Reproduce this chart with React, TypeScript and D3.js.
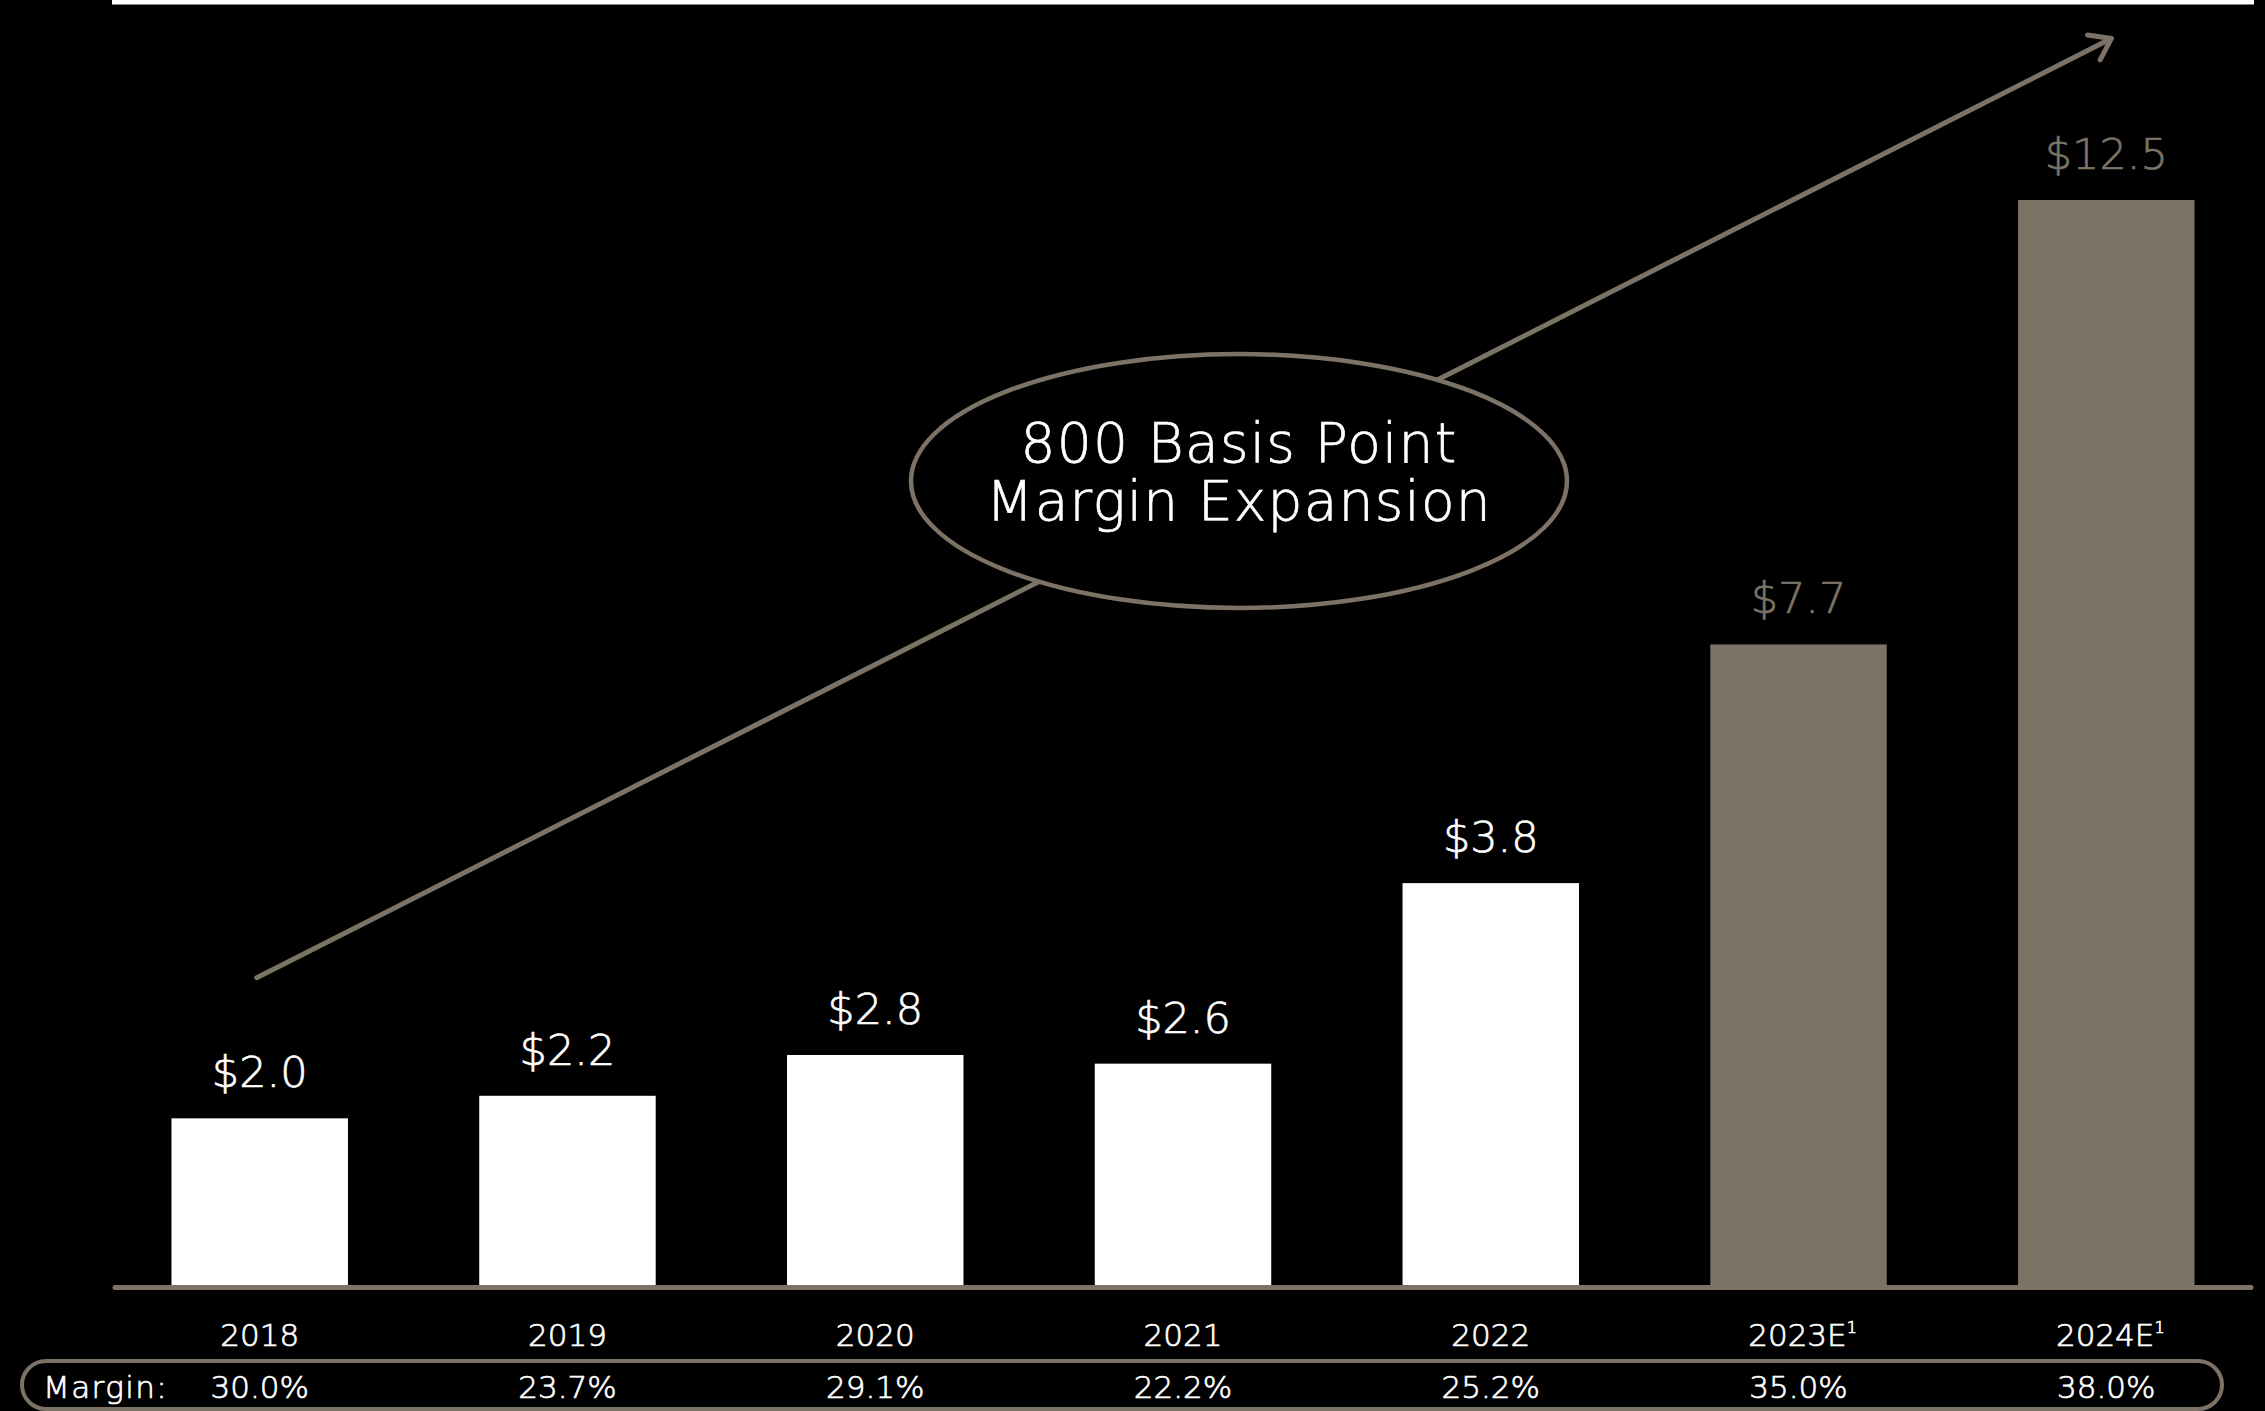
import React, { useEffect } from "react";
import * as d3 from "d3";

// ---- data ----
const years = ["2018", "2019", "2020", "2021", "2022", "2023E", "2024E"];
const estimated = [false, false, false, false, false, true, true];
const valueLabels = ["$2.0", "$2.2", "$2.8", "$2.6", "$3.8", "$7.7", "$12.5"];
// bar heights as drawn in the picture (in $ units on the drawn scale)
const barHeights = [1.92, 2.18, 2.65, 2.55, 4.63, 7.38, 12.5];
const margins = ["30.0%", "23.7%", "29.1%", "22.2%", "25.2%", "35.0%", "38.0%"];
const calloutLines = ["800 Basis Point", "Margin Expansion"];
const arrowFrom = { cat: "2018", v: 3.54, dx: -3 };
const arrowTo = { cat: "2024E", v: 14.36, dx: 5 };

const W = 2265;
const H = 1411;
const TAUPE = "#7c7366";
const FONT = "'DejaVu Sans', sans-serif";

export default function App() {
  useEffect(() => {
    document.body.style.margin = "0";
    document.body.style.background = "#000";
  }, []);

  const x = d3
    .scaleBand<string>()
    .domain(years)
    .range([113, 2253])
    .paddingInner(0.4266)
    .paddingOuter(0.19);
  const y = d3.scaleLinear().domain([0, 12.5]).range([1285, 200]);
  const cx = (c: string) => (x(c) as number) + x.bandwidth() / 2;

  const x1 = cx(arrowFrom.cat) + arrowFrom.dx;
  const y1 = y(arrowFrom.v);
  const x2 = cx(arrowTo.cat) + arrowTo.dx;
  const y2 = y(arrowTo.v);
  const ang = Math.atan2(y1 - y2, x1 - x2);
  const armLen = 24;
  const armA = 0.62;
  const head = d3.path();
  head.moveTo(x2 + armLen * Math.cos(ang + armA), y2 + armLen * Math.sin(ang + armA));
  head.lineTo(x2, y2);
  head.lineTo(x2 + armLen * Math.cos(ang - armA), y2 + armLen * Math.sin(ang - armA));

  const ell = { cx: 1239, cy: 481, rx: 328, ry: 127 };
  const thin = (c: string) => ({ fill: c, stroke: c, strokeWidth: 0.7 });

  return (
    <svg
      width={W}
      height={H}
      style={{ position: "absolute", left: 0, top: 0, display: "block" }}
      fontFamily={FONT}
    >
      <rect x={0} y={0} width={W} height={H} fill="#000" />
      <rect x={112} y={0} width={2142} height={4.5} fill="#fff" />

      {/* trend arrow */}
      <line x1={x1} y1={y1} x2={x2} y2={y2} stroke={TAUPE} strokeWidth={5} strokeLinecap="round" />
      <path d={head.toString()} fill="none" stroke={TAUPE} strokeWidth={5} strokeLinecap="round" strokeLinejoin="round" />

      {/* callout ellipse */}
      <ellipse cx={ell.cx} cy={ell.cy} rx={ell.rx} ry={ell.ry} fill="#000" stroke={TAUPE} strokeWidth={4.5} />
      {calloutLines.map((t, i) => (
        <text
          key={t}
          x={ell.cx}
          y={462 + i * 58}
          textAnchor="middle"
          {...thin("#fff")}
          fontSize={55}
          fontWeight={200}
          letterSpacing={1.2}
        >
          {t}
        </text>
      ))}

      {/* bars */}
      {years.map((c, i) => (
        <rect
          key={c}
          x={x(c)}
          y={y(barHeights[i])}
          width={x.bandwidth()}
          height={y(0) - y(barHeights[i])}
          fill={estimated[i] ? TAUPE : "#fff"}
        />
      ))}
      {years.map((c, i) => (
        <text
          key={c + "v"}
          x={cx(c)}
          y={y(barHeights[i]) - 31}
          textAnchor="middle"
          {...thin(estimated[i] ? TAUPE : "#fff")}
          fontSize={43}
          fontWeight={200}
        >
          {valueLabels[i]}
        </text>
      ))}

      {/* baseline */}
      <line x1={115} x2={2251} y1={1287.5} y2={1287.5} stroke={TAUPE} strokeWidth={5} strokeLinecap="round" />

      {/* year labels */}
      {years.map((c, i) => (
        <text key={c + "y"} x={cx(c) + (estimated[i] ? 4 : 0)} y={1346} textAnchor="middle" {...thin("#fff")} fontSize={31} fontWeight={200}>
          {c}
          {estimated[i] && (
            <tspan fontSize={16} dy={-13}>
              1
            </tspan>
          )}
        </text>
      ))}

      {/* margin row */}
      <rect x={22} y={1361} width={2200} height={48} rx={24} ry={24} fill="none" stroke={TAUPE} strokeWidth={4} />
      <text x={43} y={1398} {...thin("#fff")} fontSize={31} fontWeight={200} letterSpacing={1.4}>
        Margin:
      </text>
      {years.map((c, i) => (
        <text key={c + "m"} x={cx(c)} y={1398} textAnchor="middle" {...thin("#fff")} fontSize={31} fontWeight={200}>
          {margins[i]}
        </text>
      ))}
    </svg>
  );
}
